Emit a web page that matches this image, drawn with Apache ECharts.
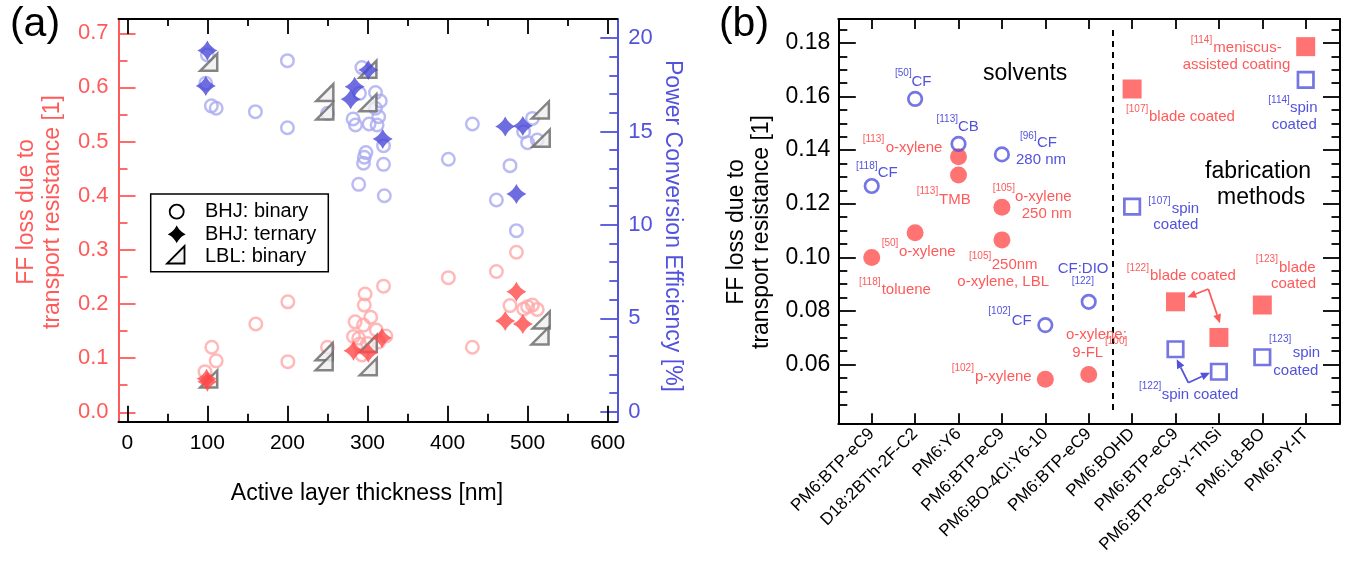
<!DOCTYPE html>
<html><head><meta charset="utf-8">
<script src="https://cdn.jsdelivr.net/npm/echarts@6/dist/echarts.min.js"></script>
<style>html,body{margin:0;padding:0;background:#fff}#c{width:1349px;height:569px}</style>
</head><body><div id="c"></div>
<script>
// ---------------- Panel (a) data ----------------
const thicknessTicks = [0, 100, 200, 300, 400, 500, 600];
const thicknessMinor = [50, 150, 250, 350, 450, 550];
const ffTicks = [0, 0.1, 0.2, 0.3, 0.4, 0.5, 0.6, 0.7];
const ffMinor = [0.05, 0.15, 0.25, 0.35, 0.45, 0.55, 0.65];
const pceTicks = [0, 5, 10, 15, 20];
const pceMinor = [1, 2, 3, 4, 6, 7, 8, 9, 11, 12, 13, 14, 16, 17, 18, 19];

// [thickness nm, FF loss]
const ffBinary = [[97,0.075],[105.5,0.12],[111,0.095],[160.5,0.163],[200.5,0.204],[200.5,0.0935],[250,0.12],
  [297,0.2185],[296,0.198],[284.6,0.167],[304,0.1755],[295,0.161],[311,0.152],[282.5,0.14],[289,0.1367],
  [290,0.126],[300,0.127],[314,0.13],[323,0.141],[320,0.233],[293,0.106],[401,0.2487],[431,0.12],
  [461,0.26],[486,0.2955],[478,0.197],[495,0.1908],[500,0.195],[506,0.198],[512,0.19]];
const ffTernary = [[100,0.0565],[99,0.062],[282.5,0.1138],[301,0.110],[318,0.137],[486,0.2228],[472,0.1686],[494,0.163]];
const ffLBL = [[101.7,0.0615],[245.9,0.112],[245.9,0.0935],[301,0.0842],[301,0.127],[517,0.1705],[515.5,0.141]];
// [thickness nm, PCE %]
const pceBinary = [[100,19.1],[98,17.58],[105,16.37],[111,16.24],[160,16.06],[200,18.79],[200,15.2],[250,15.97],
  [293,18.42],[290,17.04],[310,17.08],[316,16.63],[310,16.24],[314,15.79],[282,15.67],[285,15.35],[302,15.4],
  [312,15.35],[320,14.24],[298,13.87],[296,13.62],[295,13.3],[320,13.24],[289,12.17],[321,11.56],[401,13.51],
  [431,15.4],[478,13.17],[461,11.33],[495,14.99],[506,15.7],[500,14.4],[512,14.54],[486,9.69]];
const pceTernary = [[100,19.33],[98,17.44],[301,18.29],[284,17.4],[279,16.72],[319,14.6],[472,15.26],[494,15.29],[486,11.65]];
const pceLBL = [[101.7,18.7],[300.5,18.33],[300.5,16.54],[246.7,17.08],[246.7,16.1],[515.9,16.15],[517,14.64]];

// ---------------- Panel (b) data ----------------
const categories = ['PM6:BTP-eC9','D18:2BTh-2F-C2','PM6:Y6','PM6:BTP-eC9','PM6:BO-4Cl:Y6-10','PM6:BTP-eC9',
  'PM6:BOHD','PM6:BTP-eC9','PM6:BTP-eC9:Y-ThSi','PM6:L8-BO','PM6:PY-IT'];
const categoryTicks = [0,1,2,3,4,5,6,7,8,9,10];
const lossTicks = [0.06, 0.08, 0.10, 0.12, 0.14, 0.16, 0.18];
const lossMinor = [0.045,0.05,0.055,0.065,0.07,0.075,0.085,0.09,0.095,0.105,0.11,0.115,0.125,0.13,0.135,0.145,0.15,0.155,0.165,0.17,0.175,0.185];
// [category index, FF loss]
const solventSpin = [[0,0.1266],[1,0.1591],[2,0.1423],[3,0.1384],[4,0.0747],[5,0.0834]];
const solventGreen = [[0,0.0999],[1,0.1092],[2,0.1375],[2,0.1307],[3,0.1187],[3,0.1065],[4,0.0545],[5,0.0563]];
const fabSpin = [[6,0.1189],[7,0.0657],[8,0.0573],[9,0.0627],[10,0.1662]];
const fabOther = [[6,0.1628],[7,0.0834],[8,0.0701],[9,0.0822],[10,0.1786]];
const dividerAt = 5.55;

// ---------------- styles ----------------
const FONT = '"Liberation Sans", Arial, Helvetica, sans-serif';
const RED = '#FF5A5A', BLUE = '#5252DC', RED_FADE = '#FFA8A8', BLUE_FADE = '#AAAAF0';
const RED_DARK = '#FF4848', BLUE_DARK = '#4848D8', GREY = '#666666';
const STAR = 'path://M50,0 Q66,34 100,50 Q66,66 50,100 Q34,66 0,50 Q34,34 50,0 Z';
const TRI = 'path://M0,100 L100,100 L100,0 Z';

function axis(o) {
  const a = {
    type: 'value', gridIndex: o.grid, position: o.pos, min: o.min, max: o.max,
    axisLine: {show: !!o.line, onZero: false, lineStyle: {color: o.color, width: 2}},
    axisTick: {show: true, inside: true, length: o.len, customValues: o.ticks, lineStyle: {color: o.color, width: 1.8}},
    axisLabel: {show: false},
    splitLine: {show: false}, minorTick: {show: false}, silent: true
  };
  if (o.labels) a.axisLabel = {show: true, customValues: o.ticks, formatter: o.fmt, color: o.lc || o.color,
    fontSize: o.fs, fontFamily: FONT, margin: o.margin, rotate: o.rotate || 0};
  return a;
}
const AX = {min: -11, max: 612}, AY = {min: -0.0174, max: 0.7264}, AY2 = {min: -0.535, max: 21.02};
const BX = {min: -0.77, max: 10.79}, BY = {min: 0.03806, max: 0.18892};

const xAxes = [
  axis({grid:0,pos:'bottom',...AX,line:true,color:'#000',len:16,ticks:thicknessTicks,labels:true,fmt:v=>String(v),fs:21,margin:11}),
  axis({grid:0,pos:'bottom',...AX,color:'#000',len:8,ticks:thicknessMinor}),
  axis({grid:0,pos:'top',...AX,line:true,color:'#000',len:15,ticks:thicknessTicks}),
  axis({grid:0,pos:'top',...AX,color:'#000',len:7,ticks:thicknessMinor}),
  axis({grid:1,pos:'bottom',...BX,line:true,color:'#000',len:10,ticks:categoryTicks,labels:true,fmt:v=>categories[Math.round(v)],fs:17,margin:8,rotate:45}),
  axis({grid:1,pos:'top',...BX,line:true,color:'#000',len:10,ticks:categoryTicks})
];
const yAxes = [
  axis({grid:0,pos:'left',...AY,line:true,color:RED,len:17,ticks:ffTicks,labels:true,fmt:v=>v.toFixed(1),fs:22,margin:10}),
  axis({grid:0,pos:'left',...AY,color:RED,len:9,ticks:ffMinor}),
  axis({grid:0,pos:'right',...AY2,line:true,color:BLUE,len:17,ticks:pceTicks,labels:true,fmt:v=>String(v),fs:22,margin:11}),
  axis({grid:0,pos:'right',...AY2,color:BLUE,len:8,ticks:pceMinor}),
  axis({grid:1,pos:'left',...BY,line:true,color:'#000',len:17.5,ticks:lossTicks,labels:true,fmt:v=>v.toFixed(2),fs:23,margin:8}),
  axis({grid:1,pos:'left',...BY,color:'#000',len:9,ticks:lossMinor}),
  axis({grid:1,pos:'right',...BY,line:true,color:'#000',len:17,ticks:lossTicks}),
  axis({grid:1,pos:'right',...BY,color:'#000',len:8.5,ticks:lossMinor})
];

function sc(data, xi, yi, symbol, size, item, extra) {
  return Object.assign({type:'scatter', xAxisIndex:xi, yAxisIndex:yi, data, symbol, symbolSize:size,
    itemStyle:item, emphasis:{disabled:true}, silent:true, z:2}, extra || {});
}
const open = c => ({color:'rgba(0,0,0,0)', borderColor:c, borderWidth:2.5});
const series = [
  sc(ffBinary,0,0,'circle',12.5,open(RED_FADE)),
  sc(pceBinary,0,2,'circle',12.5,open(BLUE_FADE)),
  sc(ffLBL,0,0,TRI,17,{color:'#EFEFEF',borderColor:GREY,borderWidth:2.5}),
  sc(pceLBL,0,2,TRI,17,{color:'#EFEFEF',borderColor:GREY,borderWidth:2.5}),
  sc(ffTernary,0,0,STAR,20,{color:RED_DARK}),
  sc(pceTernary,0,2,STAR,20,{color:BLUE_DARK}),
  sc(solventGreen,4,4,'circle',17,{color:'#FF5050'}),
  sc(solventSpin,4,4,'circle',13.5,{color:'rgba(0,0,0,0)',borderColor:BLUE,borderWidth:2.7}),
  sc(fabOther,4,4,'rect',19,{color:'#FF5050'}, {
    markLine:{silent:true, symbol:['none','none'], label:{show:false},
      lineStyle:{color:'#000', width:2, type:[6,5]},
      data:[[{coord:[dividerAt,0.1848]},{coord:[dividerAt,0.0423]}]]}}),
  sc(fabSpin,4,4,'rect',15.5,{color:'rgba(0,0,0,0)',borderColor:BLUE,borderWidth:2.7})
];

// ---------------- text / graphic layout ----------------
function txt(s, x, y, size, color, o) {
  o = o || {};
  return {type:'text', x, y, rotation:o.rot || 0, z:100, silent:true,
    style:{text:s, fill:color, fontSize:size, fontFamily:FONT, align:o.align || 'left',
      verticalAlign:'middle', lineHeight:o.lh || size * 1.15}};
}
function starPoly(cx, cy, r) {
  const v = [[0,-1],[1,0],[0,1],[-1,0]], c = [[0.32,-0.32],[0.32,0.32],[-0.32,0.32],[-0.32,-0.32]], pts = [];
  for (let i = 0; i < 4; i++) {
    const p0 = v[i], p1 = v[(i+1)%4], q = c[i];
    for (let t = 0; t < 1; t += 0.1) {
      const a = (1-t)*(1-t), b = 2*t*(1-t), d = t*t;
      pts.push([cx + r*(a*p0[0]+b*q[0]+d*p1[0]), cy + r*(a*p0[1]+b*q[1]+d*p1[1])]);
    }
  }
  return pts;
}
function arrow(from, to, color) {
  const dx = to[0]-from[0], dy = to[1]-from[1], L = Math.hypot(dx, dy), ux = dx/L, uy = dy/L;
  const hl = 9, hw = 4;
  const base = [to[0]-ux*hl, to[1]-uy*hl];
  return [
    {type:'line', z:100, silent:true, shape:{x1:from[0], y1:from[1], x2:base[0], y2:base[1]}, style:{stroke:color, lineWidth:1.8}},
    {type:'polygon', z:100, silent:true, shape:{points:[to, [base[0]-uy*hw, base[1]+ux*hw], [base[0]+uy*hw, base[1]-ux*hw]]}, style:{fill:color}}
  ];
}
const notesBlue = [
  ['[50]',895,73,10],['CF',911.5,81.7,15],
  ['[113]',936.5,119,10],['CB',958,127,15],
  ['[96]',1020,136.7,10],['CF',1037,143,15],['280 nm',1016,160,15],
  ['[118]',856,166,10],['CF',877.7,173.3,15],
  ['[102]',988.3,311.7,10],['CF',1011.7,320.7,15],
  ['CF:DIO',1057.7,269.3,15],['[122]',1071.7,281.7,10],
  ['[114]',1268.3,100,10],['spin',1290,108.3,15],['coated',1271.7,125,15],
  ['[107]',1148.3,201,10],['spin',1171.7,209.3,15],['coated',1153.3,225,15],
  ['[123]',1269,339.3,10],['spin',1292.7,353.3,15],['coated',1273.3,370.7,15],
  ['[122]',1139,386,10],['spin coated',1161.7,395,15]
];
const notesRed = [
  ['[113]',862.7,139,10],['o-xylene',885.7,148,15],
  ['[113]',916.7,191.7,10],['TMB',939,200,15],
  ['[105]',992.7,188.3,10],['o-xylene',1015,197.3,15],['250 nm',1021.7,214,15],
  ['[50]',881.7,243.3,10],['o-xylene',899,251.7,15],
  ['[118]',859,282.7,10],['toluene',881.7,290,15],
  ['[105]',969,256.7,10],['250nm',991.7,265,15],['o-xylene, LBL',957.3,281.7,15],
  ['o-xylene:',1066,335,15],['9-FL',1072.3,353.3,15],['[100]',1105,341,10],
  ['[102]',951.7,368.3,10],['p-xylene',975,376.7,15],
  ['[114]',1190.7,40,10],['meniscus-',1213.3,48.3,15],['assisted coating',1182.7,65,15],
  ['[107]',1126,109.3,10],['blade coated',1149,117.3,15],
  ['[122]',1126.7,268.3,10],['blade coated',1150,276,15],
  ['[123]',1255.7,259.3,10],['blade',1279,268.3,15],['coated',1271,284.3,15]
];
const graphics = [
  txt('(a)', 35, 25, 41, '#000', {align:'center'}),
  txt('(b)', 744, 25, 41, '#000', {align:'center'}),
  txt('Active layer thickness [nm]', 367, 494, 23, '#000', {align:'center'}),
  txt('FF loss due to\ntransport resistance [1]', 40, 212, 23, RED, {align:'center', rot:Math.PI/2, lh:26}),
  txt('Power Conversion Efficiency [%]', 672, 226, 23, BLUE, {align:'center', rot:-Math.PI/2}),
  txt('FF loss due to\ntransport resistance [1]', 749.5, 232, 23, '#000', {align:'center', rot:Math.PI/2, lh:25}),
  // legend
  {type:'rect', z:99, silent:true, shape:{x:150.7, y:194, width:177.6, height:77.7}, style:{fill:'#fff', stroke:'#000', lineWidth:1.5}},
  {type:'circle', z:100, silent:true, shape:{cx:176.7, cy:211.7, r:7}, style:{fill:'none', stroke:'#000', lineWidth:1.8}},
  {type:'polygon', z:100, silent:true, shape:{points:starPoly(176.7, 234.3, 9)}, style:{fill:'#000'}},
  {type:'polygon', z:100, silent:true, shape:{points:[[167,263.5],[184.5,263.5],[184.5,246]]}, style:{fill:'#F2F2F2', stroke:'#000', lineWidth:1.8}},
  txt('BHJ: binary', 205, 211.7, 20, '#000'),
  txt('BHJ: ternary', 205, 234.3, 20, '#000'),
  txt('LBL: binary', 205, 256.7, 20, '#000'),
  // panel b headings
  txt('solvents', 983, 73.3, 23, '#000'),
  txt('fabrication', 1205, 171.7, 23, '#000'),
  txt('methods', 1217, 197.3, 23, '#000'),
  ...arrow([1208.3,289],[1187.3,297.3], RED), ...arrow([1208.3,289],[1220,323.3], RED),
  ...arrow([1188.3,382.7],[1176.7,359.3], BLUE), ...arrow([1188.3,382.7],[1210,372.7], BLUE)
];
notesBlue.forEach(n => graphics.push(txt(n[0], n[1], n[2], n[3], BLUE)));
notesRed.forEach(n => graphics.push(txt(n[0], n[1], n[2], n[3], RED)));

const chart = echarts.init(document.getElementById('c'), null, {renderer:'canvas'});
chart.setOption({
  animation: false,
  backgroundColor: '#fff',
  textStyle: {fontFamily: FONT},
  grid: [
    {left:118.5, right:731.7, top:19, bottom:147.3, containLabel:false, outerBoundsMode:'none'},
    {left:838.3, right:9, top:19, bottom:145.7, containLabel:false, outerBoundsMode:'none'}
  ],
  xAxis: xAxes,
  yAxis: yAxes,
  series: series,
  graphic: {elements: graphics}
});
</script></body></html>
